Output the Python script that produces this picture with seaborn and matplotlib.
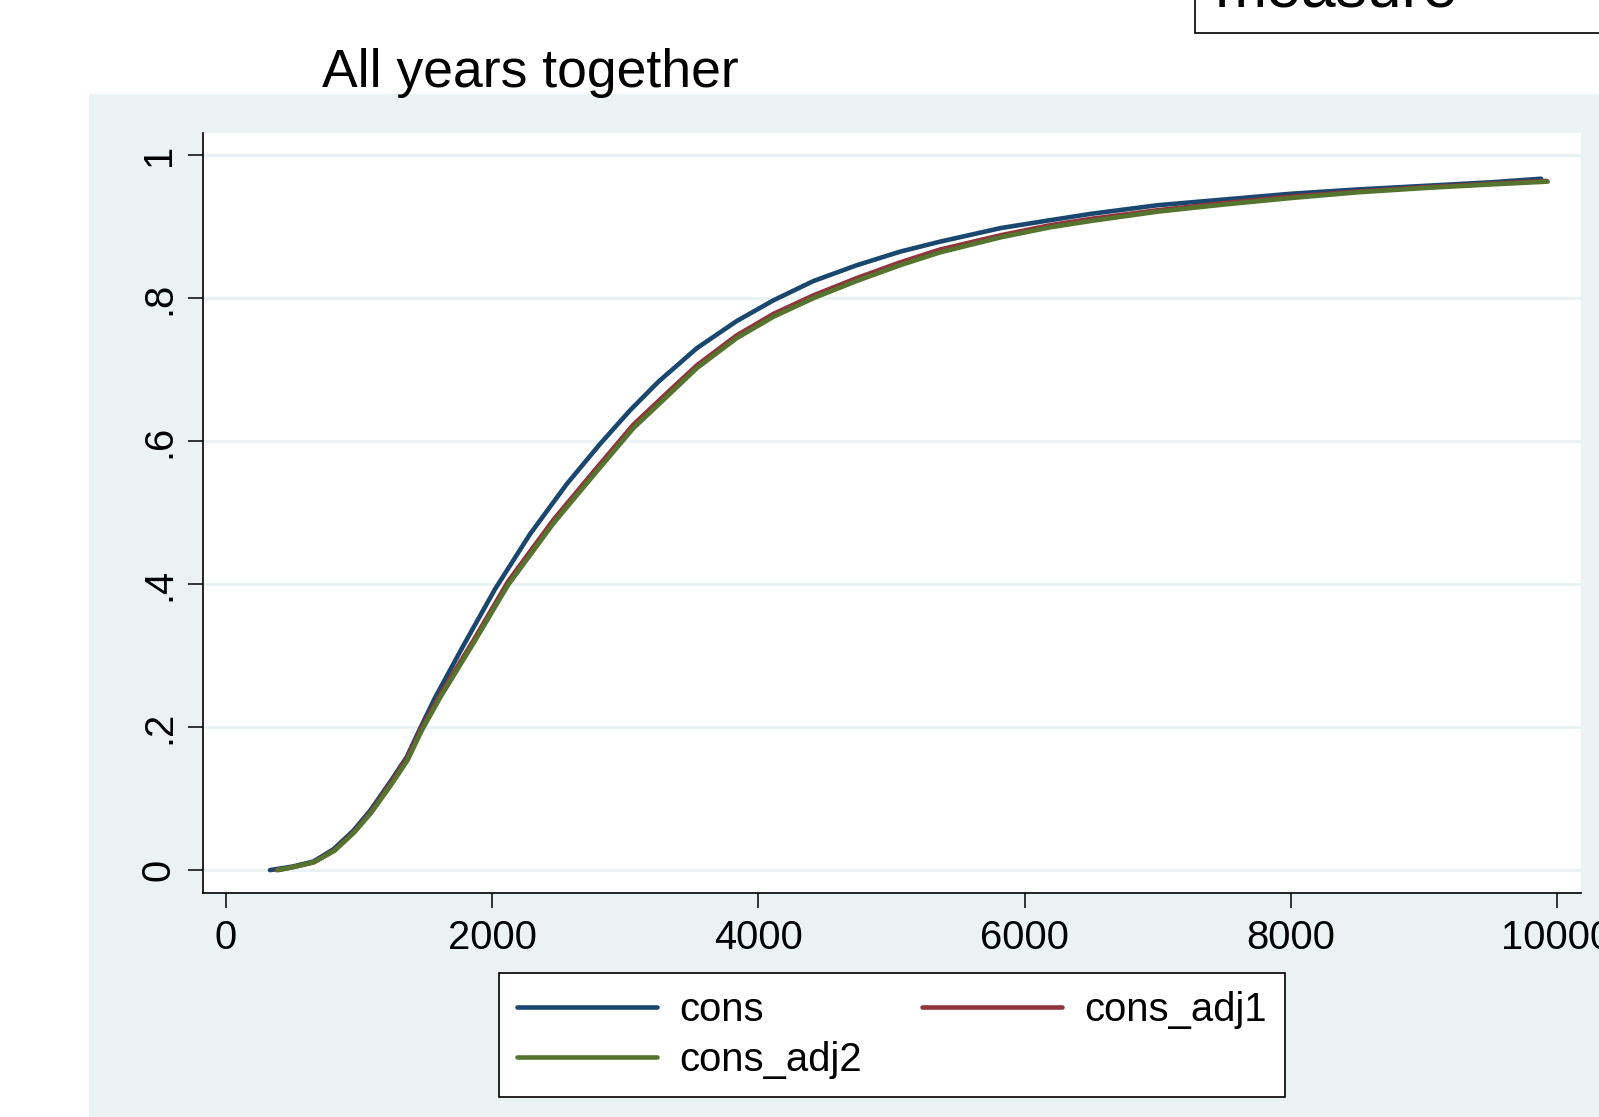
import pandas as pd
import matplotlib.pyplot as plt
import seaborn as sns
from matplotlib.patches import Rectangle

# Values (cumulative share by consumption level)
cons_x = [330, 500, 656, 806, 956, 1082, 1232, 1357, 1458, 1570, 1783, 2021, 2284, 2560, 2810,
          3035, 3248, 3537, 3837, 4113, 4414, 4738, 5064, 5364, 5820, 6190, 6500, 7000, 7500,
          8000, 8500, 9000, 9500, 9880]
cons_y = [0.0, 0.005, 0.012, 0.029, 0.055, 0.083, 0.123, 0.158, 0.198, 0.241, 0.314, 0.393,
          0.470, 0.540, 0.596, 0.643, 0.683, 0.730, 0.768, 0.797, 0.824, 0.846, 0.865, 0.879,
          0.898, 0.909, 0.918, 0.930, 0.938, 0.946, 0.952, 0.957, 0.962, 0.967]

adj1_x = [380, 500, 660, 815, 965, 1090, 1240, 1365, 1470, 1608, 1858, 2120, 2460, 2760, 3060,
          3311, 3537, 3837, 4113, 4414, 4738, 5064, 5364, 5820, 6190, 6500, 7000, 7500, 8000,
          8500, 9000, 9500, 9920]
adj1_y = [0.0, 0.004, 0.011, 0.028, 0.054, 0.082, 0.122, 0.158, 0.199, 0.245, 0.321, 0.404,
          0.490, 0.557, 0.623, 0.667, 0.706, 0.748, 0.778, 0.804, 0.828, 0.850, 0.868, 0.888,
          0.902, 0.911, 0.923, 0.933, 0.942, 0.949, 0.955, 0.960, 0.964]

adj2_x = [390, 500, 660, 815, 965, 1090, 1240, 1365, 1470, 1608, 1858, 2120, 2460, 2760, 3060,
          3311, 3537, 3837, 4113, 4414, 4738, 5064, 5364, 5820, 6190, 6500, 7000, 7500, 8000,
          8500, 9000, 9500, 9930]
adj2_y = [0.0, 0.004, 0.011, 0.027, 0.053, 0.080, 0.119, 0.154, 0.195, 0.241, 0.317, 0.399,
          0.485, 0.552, 0.618, 0.662, 0.702, 0.744, 0.774, 0.800, 0.824, 0.846, 0.864, 0.885,
          0.899, 0.908, 0.921, 0.931, 0.940, 0.948, 0.954, 0.959, 0.963]

names = ["cons", "cons_adj1", "cons_adj2"]
colors = ["#1a476f", "#90353b", "#55752f"]
x_ticks = [0, 2000, 4000, 6000, 8000, 10000]
y_ticks = [0, 0.2, 0.4, 0.6, 0.8, 1.0]
y_labels = ["0", ".2", ".4", ".6", ".8", "1"]

df = pd.concat([
    pd.DataFrame({"x": cons_x, "y": cons_y, "measure": names[0]}),
    pd.DataFrame({"x": adj1_x, "y": adj1_y, "measure": names[1]}),
    pd.DataFrame({"x": adj2_x, "y": adj2_y, "measure": names[2]}),
])

sns.set_style("white")
plt.rcParams["font.family"] = ["Liberation Sans", "DejaVu Sans"]
plt.rcParams["text.color"] = "black"
plt.rcParams["xtick.color"] = "black"
plt.rcParams["ytick.color"] = "black"

bg = "#eaf2f3"
fig = plt.figure(figsize=(15.99, 11.17), dpi=100)
fig.patches.append(Rectangle((89 / 1599, 0), 1, 1 - 94 / 1117, transform=fig.transFigure,
                             facecolor=bg, edgecolor="none", zorder=-10))
# cut-off box of the outer title
fig.patches.append(Rectangle((1195 / 1599, 1 - 33 / 1117), 0.5, 0.5, transform=fig.transFigure,
                             facecolor="white", edgecolor="black", lw=1.2, zorder=-5))
fig.text(1215 / 1599, 1 - 8 / 1117, "measure", fontsize=45, va="baseline", ha="left")
fig.text(322 / 1599, 1 - 87 / 1117, "All years together", fontsize=38.5, va="baseline", ha="left")

ax = fig.add_axes([203 / 1599, 1 - 893 / 1117, (1581 - 203) / 1599, (893 - 133) / 1117])
ax.set_facecolor("white")
sns.lineplot(data=df, x="x", y="y", hue="measure", palette=colors, estimator=None,
             linewidth=3.3, ax=ax, legend=False)

ax.set_xlim(-173, 10180)
ax.set_ylim(-0.032, 1.031)
ax.set_xticks(x_ticks)
ax.set_xticklabels([str(t) for t in x_ticks])
ax.set_yticks(y_ticks)
ax.set_yticklabels(y_labels, rotation=90, va="center")
ax.yaxis.grid(True, color=bg, lw=2.2)
ax.set_axisbelow(True)
for s in ["top", "right"]:
    ax.spines[s].set_visible(False)
for s in ["left", "bottom"]:
    ax.spines[s].set_color("black")
    ax.spines[s].set_linewidth(1.2)
ax.tick_params(axis="both", direction="out", length=11, width=1.1, color="black",
               labelsize=28.8, labelcolor="black", left=True, bottom=True)
ax.tick_params(axis="y", pad=7)
ax.tick_params(axis="x", pad=8)
ax.set_xlabel("")
ax.set_ylabel("")

# legend fills columns first: order so row 1 is cons / cons_adj1
order = [0, 2, 1]
handles = [plt.Line2D([], [], color=colors[i], lw=3.3) for i in order]
leg = fig.legend(handles, [names[i] for i in order], loc="center",
                 bbox_to_anchor=(892 / 1599, 1 - 1035 / 1117),
                 ncol=2, fontsize=28.8, frameon=True, fancybox=False, framealpha=1,
                 edgecolor="black", handlelength=3.5, handletextpad=0.55, columnspacing=1.5,
                 labelspacing=0.3, borderpad=0.45)
leg.get_frame().set_linewidth(1.2)

fig.savefig("out.png", dpi=100)
